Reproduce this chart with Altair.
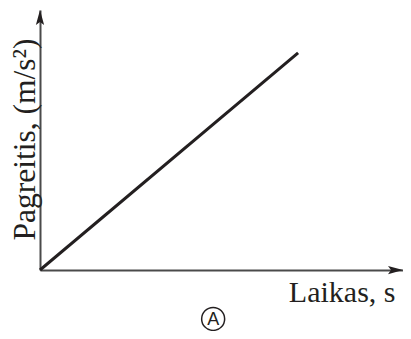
import altair as alt
import pandas as pd

# Data (arbitrary units, no ticks shown in reference)
time_s = [0, 7.11]
accel = [0, 8.35]
axis_max_x = [10]
axis_max_y = [10]
x_label = "Laikas, s"
y_label = "Pagreitis, (m/s²)"
badge = ["A"]
badge_x = [4.77]
badge_y = [-1.88]

INK = "#231f20"
AXIS = "#4a4a4a"
SERIF = "Liberation Serif"

xs = alt.Scale(domain=[0, 10], nice=False, zero=False)
ys = alt.Scale(domain=[0, 10], nice=False, zero=False)

df = pd.DataFrame({"t": time_s, "a": accel})

x_axis = alt.Axis(
    title=x_label, domain=True, domainColor=AXIS, domainWidth=2,
    ticks=False, labels=False, grid=False,
    titleX=355, titleY=31, titleAlign="right", titleBaseline="alphabetic",
    titleFont=SERIF, titleFontSize=30, titleFontWeight="normal", titleColor=INK,
)
y_axis = alt.Axis(
    title=y_label, domain=True, domainColor=AXIS, domainWidth=2,
    ticks=False, labels=False, grid=False,
    titleX=-6, titleY=129, titleAngle=-90, titleAlign="center",
    titleBaseline="alphabetic",
    titleFont=SERIF, titleFontSize=31.5, titleFontWeight="normal", titleColor=INK,
)

line = alt.Chart(df).mark_line(color=INK, strokeWidth=3, clip=False).encode(
    x=alt.X("t:Q", scale=xs, axis=x_axis),
    y=alt.Y("a:Q", scale=ys, axis=y_axis),
)

y_arrow = alt.Chart(pd.DataFrame({"t": [0], "a": axis_max_y})).mark_point(
    shape="M0,0 L-0.55,2 L0,1.6 L0.55,2 Z", size=225, filled=True,
    color=INK, opacity=1, strokeWidth=0, clip=False,
).encode(x=alt.X("t:Q", scale=xs), y=alt.Y("a:Q", scale=ys))

x_arrow = alt.Chart(pd.DataFrame({"t": axis_max_x, "a": [0]})).mark_point(
    shape="M0,0 L-2,-0.55 L-1.6,0 L-2,0.55 Z", size=225, filled=True,
    color=INK, opacity=1, strokeWidth=0, clip=False,
).encode(x=alt.X("t:Q", scale=xs), y=alt.Y("a:Q", scale=ys))

bdf = pd.DataFrame({"t": badge_x, "a": badge_y, "label": badge})
badge_circle = alt.Chart(bdf).mark_point(
    shape="circle", size=529, filled=False, color=INK, strokeWidth=1.5,
    opacity=1, clip=False,
).encode(x=alt.X("t:Q", scale=xs), y=alt.Y("a:Q", scale=ys))
badge_text = alt.Chart(bdf).mark_text(
    font="Liberation Sans", fontSize=18, color=INK, baseline="middle",
    align="center", dy=1, clip=False,
).encode(x=alt.X("t:Q", scale=xs), y=alt.Y("a:Q", scale=ys), text="label:N")

chart = alt.layer(line, y_arrow, x_arrow, badge_circle, badge_text).properties(
    width=363, height=260,
    autosize=alt.AutoSizeParams(type="none"),
    padding={"left": 32, "top": 2, "right": 0, "bottom": 61},
    background="white",
).configure_view(stroke=None)

chart.save("out.html", embed_options={"renderer": "svg", "actions": False})
